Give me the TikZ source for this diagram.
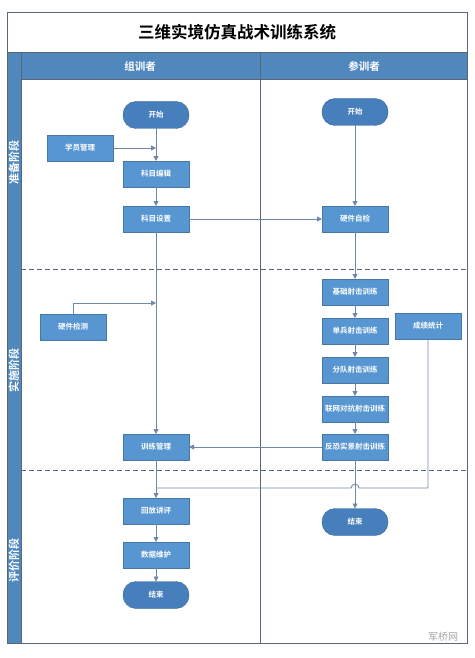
\documentclass[tikz,border=0pt]{standalone}
\usepackage{fontspec}
\setmainfont{Noto Sans CJK SC}[BoldFont={Noto Sans CJK SC Bold}]
\usepackage{xcolor}
\usetikzlibrary{positioning}
\usetikzlibrary{arrows.meta}
\usetikzlibrary{calc}

\definecolor{boxblue}{RGB}{88,150,210}
\definecolor{termblue}{RGB}{70,127,188}
\definecolor{headblue}{RGB}{80,136,190}
\definecolor{linegray}{RGB}{112,136,168}
\definecolor{framegray}{RGB}{88,102,122}

\tikzset{
  box/.style={draw=boxblue!80!black, fill=boxblue, text=white, font=\bfseries\fontsize{7.5}{9}\selectfont,
    minimum width=66pt, minimum height=26pt, inner sep=1pt, outer sep=0pt},
  term/.style={box, fill=termblue, draw=termblue!80!black, rounded corners=13pt, minimum height=27pt},
  arr/.style={linegray, line width=0.9pt, -{Triangle[width=5pt,length=5pt]}},
  conn/.style={linegray, line width=0.9pt},
  phase/.style={rotate=90, text=white, font=\bfseries\fontsize{11}{12}\selectfont},
  lanehead/.style={text=white, font=\bfseries\fontsize{10.5}{12}\selectfont}
}

\begin{document}
\begin{tikzpicture}[x=1pt,y=-1pt]
\useasboundingbox (0,0) rectangle (474,658);

% frame, header and phase strip
\fill[headblue] (21,52) rectangle (467,79);
\fill[headblue] (7,52) rectangle (21,643);
\draw[framegray, line width=0.8pt] (7,12) rectangle (467,643);
\draw[framegray, line width=0.8pt] (7,52) -- (467,52);
\draw[framegray, line width=0.8pt] (21,79) -- (467,79);
\draw[framegray, line width=0.8pt] (21,52) -- (21,643);
\draw[framegray, line width=0.8pt] (260,52) -- (260,643);

\draw[framegray, dashed, dash pattern=on 5pt off 3pt] (21,269) -- (467,269);
\draw[framegray, dashed, dash pattern=on 5pt off 3pt] (21,470) -- (467,470);

\node (title) at (237,32) {\bfseries\fontsize{16.5}{18}\selectfont 三维实境仿真战术训练系统};
\node[lanehead] (org) at (140,66) {组训者};
\node[lanehead] (par) at (364,66) {参训者};

\node[phase] (p1) at (14,162) {准备阶段};
\node[phase] (p2) at (14,370) {实施阶段};
\node[phase] (p3) at (14,560) {评价阶段};

% lane 1
\node[term] (s1) at (156,115) {开始};
\node[box] (xygl) at (80,148) {学员管理};
\node[box] (kmbj) at (156,174) {科目编辑};
\node[box] (kmsz) at (156,219) {科目设置};
\node[box] (yjjc) at (73,327) {硬件检测};
\node[box] (xlgl) at (156,447) {训练管理};
\node[box] (hfjp) at (156,511) {回放讲评};
\node[box] (sjwh) at (156,555) {数据维护};
\node[term] (e1) at (156,595) {结束};

% lane 2
\node[term] (s2) at (355,112) {开始};
\node[box] (yjzj) at (355,219) {硬件自检};
\node[box] (t1) at (355,292) {基础射击训练};
\node[box] (t2) at (355,331) {单兵射击训练};
\node[box] (t3) at (355,370) {分队射击训练};
\node[box] (t4) at (355,409) {联网对抗射击训练};
\node[box] (t5) at (355,447) {反恐实景射击训练};
\node[box] (cjtj) at (428,326) {成绩统计};
\node[term] (e2) at (355,522) {结束};

\coordinate (hit1) at (156,303);
\coordinate (hit2) at (156,488);

% connectors
\draw[arr] (s1) -- (kmbj);
\draw[arr] (xygl) -- (xygl -| s1);
\draw[arr] (kmbj) -- (kmsz);
\draw[arr] (kmsz) -- (yjzj);
\draw[arr] (s2) -- (yjzj);
\draw[arr] (kmsz) -- (xlgl);
\draw[arr] (yjjc.north) |- (hit1);
\draw[arr] (yjzj) -- (t1);
\foreach \a/\b in {t1/t2,t2/t3,t3/t4,t4/t5}
  \draw[arr] (\a) -- (\b);
\draw[arr] (t5) -- (xlgl);
\draw[arr] (xlgl) -- (hfjp);
\draw[arr] (hfjp) -- (sjwh);
\draw[arr] (sjwh) -- (e1);
\draw[arr] (t5) -- (e2);
\draw[conn] (cjtj.south) |- (359,488) .. controls (359,483) and (351,483) .. (351,488) -- (hit2);

% watermark
\node[text=gray!70, font=\fontsize{10}{11}\selectfont] (mark) at (443,637) {军桥网};

\end{tikzpicture}
\end{document}
